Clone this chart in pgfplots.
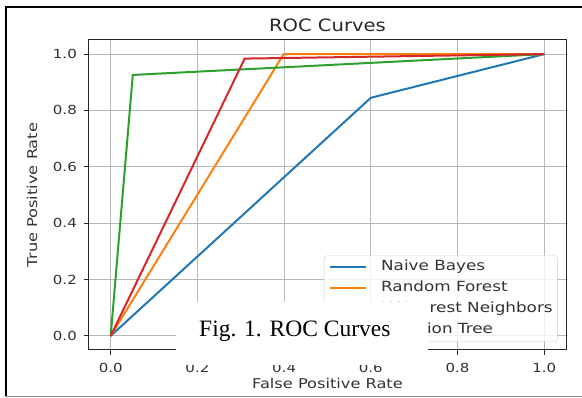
\documentclass[border=0pt]{standalone}
\usepackage{fontspec}
\usepackage{pgfplots}
\pgfplotsset{compat=1.18}
\setmainfont{Liberation Serif}
\newfontfamily\dv[FakeStretch=1.2]{DejaVu Sans}
\newfontfamily\dvt[FakeStretch=1.15]{DejaVu Sans}
\definecolor{mblue}{HTML}{1F77B4}
\definecolor{morange}{HTML}{FF7F0E}
\definecolor{mgreen}{HTML}{2CA02C}
\definecolor{mred}{HTML}{D62728}
\begin{document}
\begin{tikzpicture}[x=1pt,y=1pt]
\useasboundingbox (0,0) rectangle (582,398);
\begin{axis}[
  at={(89pt,48pt)}, anchor=south west,
  width=477pt, height=310pt, scale only axis,
  xmin=-0.05, xmax=1.05, ymin=-0.05, ymax=1.05,
  xtick={0,0.2,0.4,0.6,0.8,1.0}, ytick={0,0.2,0.4,0.6,0.8,1.0},
  /pgf/number format/.cd, fixed, fixed zerofill, precision=1, assume math mode=true,
  /pgfplots/.cd,
  grid=major,
  major grid style={color=black!28, line width=1pt},
  axis line style={line width=1pt, black!85},
  tick style={black!85, line width=1pt},
  tick align=outside, major tick length=5pt,
  xtick pos=bottom, ytick pos=left,
  tick label style={font=\dv\fontsize{12.5}{14}\selectfont, text=black!80, inner sep=0pt},
  xticklabel style={yshift=-8pt},
  yticklabel style={xshift=-7pt},
  xlabel={False Positive Rate},
  ylabel={True Positive Rate},
  xlabel style={at={(axis description cs:0.5,-0.1065)}, anchor=center, font=\dv\fontsize{13.5}{15}\selectfont, text=black!80},
  ylabel style={at={(axis description cs:-0.1195,0.5)}, anchor=center, rotate=0, font=\dv\fontsize{13.5}{15}\selectfont, text=black!80},
  legend style={at={(0.983,0.026)}, anchor=south east, draw=black!20, rounded corners=3pt,
    fill=white, fill opacity=0.8, text opacity=1, font=\dv\fontsize{14}{16}\selectfont, text=black!80,
    inner xsep=5pt, inner ysep=5pt, row sep=8pt,
    nodes={inner sep=0pt, text height=10pt, text depth=3pt},
    /tikz/every odd column/.append style={column sep=14pt}},
  legend cell align=left,
  legend image code/.code={\draw[#1, line width=2pt] (0pt,0pt) -- (36pt,0pt);},
]
\addplot[mblue, line width=2pt] coordinates {(0,0) (0.6,0.845) (1,1)};
\addlegendentry{Naive Bayes}
\addplot[morange, line width=2pt] coordinates {(0,0) (0.399,1.0) (1,1)};
\addlegendentry{Random Forest}
\addplot[mgreen, line width=2pt] coordinates {(0,0) (0.051,0.926) (1,1)};
\addlegendentry{K-Nearest Neighbors}
\addplot[mred, line width=2pt] coordinates {(0,0) (0.309,0.984) (1,1)};
\addlegendentry{Decision Tree}
\end{axis}
\node[anchor=base, inner sep=0pt, font=\dvt\fontsize{17}{20}\selectfont, text=black!85] at (327.5,366) {ROC Curves};
\fill[white] (176,33) rectangle (428,96);
\node[anchor=base west, inner sep=0pt, font=\fontsize{23.5}{26}\selectfont] at (199,61) {Fig. 1. ROC Curves};
\draw[line width=2pt, black] (6,2) -- (6,391) -- (600,391);
\draw[line width=1.5pt, black!45] (5,1.5) -- (600,1.5);
\end{tikzpicture}
\end{document}
